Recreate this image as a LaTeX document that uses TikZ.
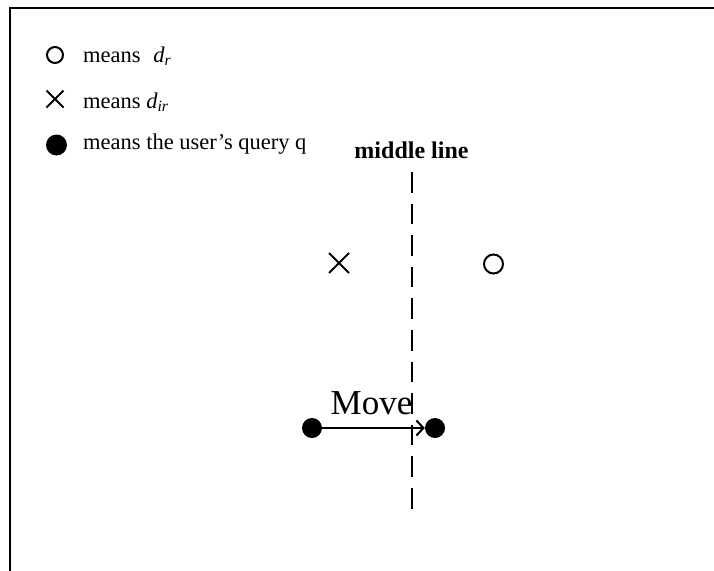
\documentclass[tikz,border=0pt]{standalone}
\usepackage{fontspec}
\setmainfont{Liberation Serif}
\usetikzlibrary{arrows,arrows.meta,shapes.misc}
\tikzstyle{frame}=[draw,line width=2.2pt]
\tikzstyle{hollow}=[circle,draw,line width=2pt,inner sep=0pt]
\tikzstyle{query}=[circle,fill=black,inner sep=0pt]
\tikzstyle{cross}=[cross out,draw,line width=2pt,inner sep=0pt]
\tikzstyle{legend}=[anchor=base west,inner sep=0pt,font=\fontsize{22.5}{26}\selectfont]
\tikzstyle{arr}=[-{Straight Barb[length=7pt,width=15pt,line width=2pt]},draw,line width=2.2pt]
\tikzstyle{midline}=[draw,line width=2.3pt,dash pattern=on 20.5pt off 11.1pt]

\begin{document}
\begin{tikzpicture}[x=1pt,y=-1pt]
    \useasboundingbox (0,0) rectangle (714,570);
    \clip (0,0) rectangle (714,570);
    \draw[frame] (10,8) rectangle (740,600);
    % legend
    \node[hollow,minimum size=16pt] (Ldr) at (55,55) {};
    \node[cross,minimum size=15pt] (Ldir) at (55,99) {};
    \node[query,minimum size=21pt] (Lq) at (56.5,145) {};
    \node[legend] (Tdr) at (83,62) {means\hspace{7pt} \textit{d}\textsubscript{\textit{r}}};
    \node[legend] (Tdir) at (83,108) {means \textit{d}\textsubscript{\textit{ir}}};
    \node[legend] (Tq) at (83,149) {means the user's query q};
    % middle line
    \node[anchor=base,inner sep=0pt,font=\fontsize{24}{28}\selectfont\bfseries] (ML) at (411.5,158) {middle line};
    \coordinate (MLtop) at (412,172);
    \coordinate (MLbot) at (412,509);
    \draw[midline] (MLtop) -- (MLbot);
    % documents
    \node[cross,minimum size=18pt] (dir) at (339,263) {};
    \node[hollow,minimum size=19pt] (dr) at (493.5,264) {};
    % query move
    \node[query,minimum size=20pt] (q0) at (312,428) {};
    \node[query,minimum size=20pt] (q1) at (435,428) {};
    \draw[arr] (q0) -- (q1);
    \node[anchor=base,inner sep=0pt,font=\fontsize{35}{40}\selectfont] (mv) at (371.5,414) {Move};
\end{tikzpicture}
\end{document}
